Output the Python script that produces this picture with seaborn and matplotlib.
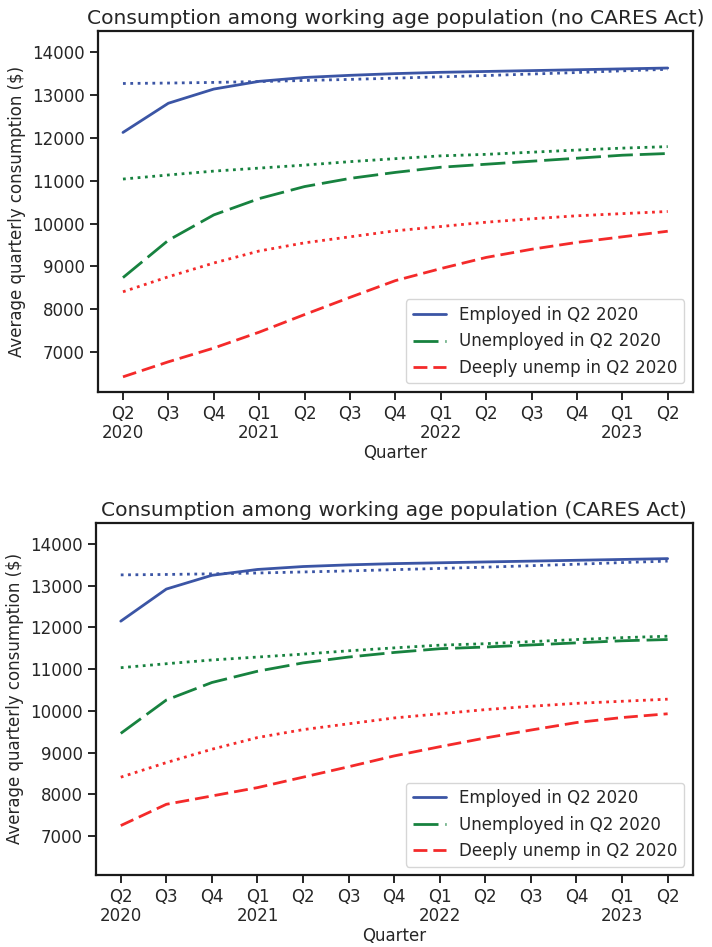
import numpy as np
import pandas as pd
import matplotlib
matplotlib.use("Agg")
import matplotlib.pyplot as plt
import seaborn as sns

quarters = ["Q2\n2020", "Q3", "Q4", "Q1\n2021", "Q2", "Q3", "Q4",
            "Q1\n2022", "Q2", "Q3", "Q4", "Q1\n2023", "Q2"]

# Baselines (dotted) - same in both panels
emp_base = [13260, 13270, 13285, 13305, 13330, 13355, 13385, 13415, 13445, 13480, 13515, 13555, 13590]
unemp_base = [11035, 11130, 11220, 11290, 11360, 11440, 11510, 11575, 11610, 11660, 11710, 11755, 11790]
deep_base = [8410, 8760, 9080, 9360, 9550, 9690, 9830, 9930, 10030, 10110, 10180, 10230, 10280]

# No CARES Act
emp_no = [12120, 12800, 13130, 13310, 13400, 13450, 13490, 13520, 13540, 13560, 13580, 13600, 13620]
unemp_no = [8740, 9610, 10200, 10580, 10860, 11050, 11190, 11310, 11380, 11450, 11520, 11590, 11630]
deep_no = [6430, 6780, 7100, 7470, 7880, 8280, 8670, 8950, 9210, 9400, 9560, 9690, 9820]

# CARES Act
emp_cares = [12150, 12920, 13250, 13390, 13460, 13500, 13530, 13550, 13570, 13590, 13610, 13630, 13650]
unemp_cares = [9460, 10260, 10680, 10950, 11150, 11290, 11400, 11490, 11530, 11580, 11630, 11680, 11710]
deep_cares = [7250, 7760, 7960, 8160, 8410, 8660, 8920, 9140, 9350, 9540, 9720, 9840, 9930]

labels = ["Employed in Q2 2020", "Unemployed in Q2 2020", "Deeply unemp in Q2 2020"]
colors = ["#3b55a5", "#17823f", "#f42a2a"]

sns.set_style("ticks")
plt.rcParams.update({
    "axes.edgecolor": "#1a1a1a",
    "axes.linewidth": 1.6,
    "xtick.major.width": 1.4,
    "ytick.major.width": 1.4,
    "xtick.major.size": 6,
    "ytick.major.size": 6,
    "xtick.color": "#262626",
    "ytick.color": "#262626",
    "font.size": 12,
})
plt.rcParams["font.family"] = ["DejaVu Sans"]

fig = plt.figure(figsize=(7.12, 9.47), dpi=100)
ax1 = fig.add_axes([98 / 712, 1 - 391.7 / 947, 594.7 / 712, 360.7 / 947])
ax2 = fig.add_axes([95.7 / 712, 1 - 875 / 947, 597 / 712, 352.3 / 947])

x = np.arange(len(quarters))
styles = ["-", (0, (9, 2.5)), (0, (5, 2.15))]


def panel(ax, series, title, ylim):
    for s, c, ls, lab in zip(series, colors, styles, labels):
        sns.lineplot(x=x, y=s, ax=ax, color=c, linestyle=ls, linewidth=2, label=lab)
    for s, c in zip([emp_base, unemp_base, deep_base], colors):
        sns.lineplot(x=x, y=s, ax=ax, color=c, linestyle=":", linewidth=2)
    ax.set_xlim(-0.55, 12.55)
    ax.set_ylim(*ylim)
    ax.set_yticks(np.arange(7000, 14001, 1000))
    ax.set_xticks(x)
    ax.set_xticklabels(quarters, fontsize=12, linespacing=1.05)
    ax.tick_params(axis="y", labelsize=12)
    ax.set_xlabel("Quarter", fontsize=12, color="#262626", labelpad=1.5)
    ax.set_ylabel(r"Average quarterly consumption (\$)", fontsize=12, color="#262626")
    ax.set_title(title, fontsize=14.6, color="#262626", pad=5)
    ax.legend(loc="lower right", fontsize=12, handlelength=2.0)
    for sp in ax.spines.values():
        sp.set_visible(True)


panel(ax1, [emp_no, unemp_no, deep_no],
      "Consumption among working age population (no CARES Act)", (6084, 14482))
panel(ax2, [emp_cares, unemp_cares, deep_cares],
      "Consumption among working age population (CARES Act)", (6065, 14511))

fig.savefig("out.png", dpi=100)
